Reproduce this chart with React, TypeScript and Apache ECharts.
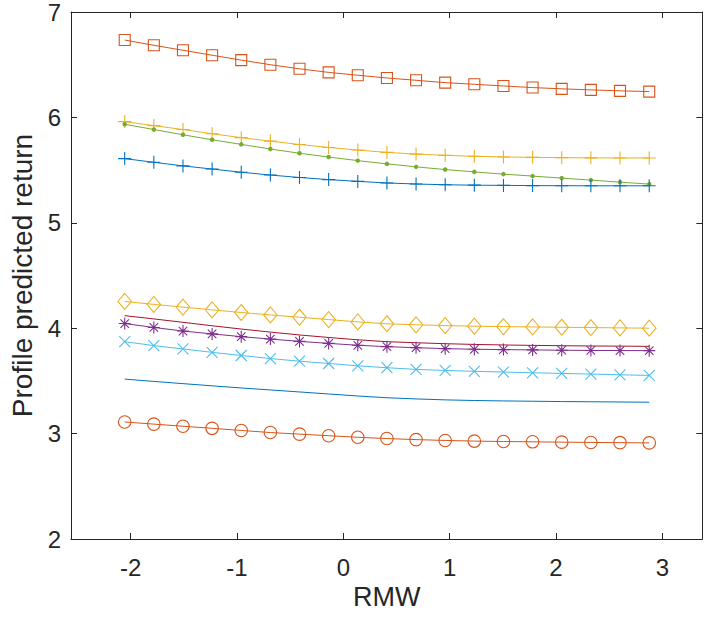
import React, { useEffect, useRef } from "react";
import * as echarts from "echarts";

const xValues = [-2.056, -1.782, -1.508, -1.234, -0.96, -0.686, -0.412, -0.138, 0.136, 0.41, 0.684, 0.958, 1.232, 1.506, 1.78, 2.054, 2.328, 2.602, 2.877];
const xTicks = [-2, -1, 0, 1, 2, 3];
const yTicks = [2, 3, 4, 5, 6, 7];

const squareVals = [6.734, 6.684, 6.637, 6.59, 6.543, 6.5, 6.461, 6.427, 6.4, 6.374, 6.352, 6.33, 6.314, 6.298, 6.283, 6.271, 6.261, 6.252, 6.245];
const yellowPlusVals = [5.96, 5.922, 5.885, 5.845, 5.808, 5.775, 5.743, 5.715, 5.69, 5.668, 5.652, 5.64, 5.631, 5.625, 5.621, 5.618, 5.616, 5.615, 5.615];
const greenDotVals = [5.935, 5.885, 5.835, 5.788, 5.744, 5.7, 5.66, 5.624, 5.59, 5.559, 5.531, 5.505, 5.483, 5.462, 5.443, 5.424, 5.405, 5.386, 5.367];
const bluePlusVals = [5.609, 5.574, 5.54, 5.51, 5.48, 5.453, 5.43, 5.41, 5.393, 5.378, 5.368, 5.361, 5.357, 5.355, 5.353, 5.352, 5.351, 5.351, 5.351];
const diamondVals = [4.254, 4.226, 4.2, 4.174, 4.149, 4.126, 4.104, 4.082, 4.06, 4.042, 4.032, 4.025, 4.019, 4.015, 4.012, 4.009, 4.006, 4.003, 4.0];
const darkRedVals = [4.119, 4.088, 4.056, 4.023, 3.992, 3.963, 3.936, 3.912, 3.89, 3.872, 3.862, 3.853, 3.846, 3.841, 3.837, 3.834, 3.831, 3.83, 3.828];
const asteriskVals = [4.044, 4.007, 3.973, 3.946, 3.92, 3.897, 3.875, 3.856, 3.838, 3.825, 3.815, 3.806, 3.8, 3.797, 3.794, 3.791, 3.789, 3.788, 3.787];
const crossVals = [3.872, 3.835, 3.803, 3.771, 3.741, 3.712, 3.687, 3.665, 3.643, 3.625, 3.609, 3.599, 3.591, 3.584, 3.577, 3.571, 3.565, 3.558, 3.552];
const blueLineVals = [3.517, 3.495, 3.474, 3.453, 3.433, 3.414, 3.395, 3.376, 3.357, 3.34, 3.329, 3.32, 3.314, 3.31, 3.307, 3.304, 3.302, 3.3, 3.298];
const circleVals = [3.11, 3.09, 3.07, 3.05, 3.03, 3.01, 2.995, 2.98, 2.965, 2.953, 2.943, 2.935, 2.929, 2.925, 2.922, 2.919, 2.916, 2.914, 2.912];

const C_BLUE = "#0072BD";
const C_ORANGE = "#D95319";
const C_YELLOW = "#EDB120";
const C_PURPLE = "#7E2F8E";
const C_GREEN = "#77AC30";
const C_CYAN = "#4DBEEE";
const C_DARKRED = "#A2142F";
const AX = "#262626";
const FONT = "'Liberation Sans', Arial, Helvetica, sans-serif";

const SYM_SQUARE = "path://M0,0L10,0L10,10L0,10Z";
const SYM_PLUS = "path://M5,0L5,10M0,5L10,5";
const SYM_CROSS = "path://M0,0L10,10M10,0L0,10";
const SYM_ASTER = "path://M5,0L5,10M0,5L10,5M1.46,1.46L8.54,8.54M8.54,1.46L1.46,8.54";
const SYM_DIAMOND = "path://M5,0L10,5L5,10L0,5Z";
const SYM_CIRCLE = "path://M10,5A5,5,0,1,1,0,5A5,5,0,1,1,10,5Z";

function pair(vals: number[]) {
  return xValues.map((x, i) => [x, vals[i]]);
}

function lineSeries(name: string, vals: number[], color: string, symbol: string | null, size: number | number[], filled = false) {
  return {
    name,
    type: "line",
    data: pair(vals),
    xAxisIndex: 0,
    yAxisIndex: 0,
    showSymbol: symbol !== null,
    symbol: symbol || "none",
    symbolSize: size,
    lineStyle: { color, width: 1 },
    itemStyle: filled
      ? { color, borderColor: color, borderWidth: 0 }
      : { color: "none", borderColor: color, borderWidth: 1.1 },
    emphasis: { disabled: true },
    z: 3,
  };
}

export default function App() {
  const ref = useRef<HTMLDivElement>(null);
  useEffect(() => {
    if (!ref.current) return;
    const chart = echarts.init(ref.current, null, { renderer: "svg" });
    const axisLine = { show: true, onZero: false, lineStyle: { color: AX, width: 1 } };
    const tick = { show: true, inside: true, length: 6, lineStyle: { color: AX, width: 1 } };
    chart.setOption({
      animation: false,
      backgroundColor: "#ffffff",
      grid: { left: 59.3, right: 3.7, top: 7.4, bottom: 78, containLabel: false },
      xAxis: [
        {
          type: "value",
          position: "bottom",
          min: -2.561,
          max: 3.376,
          axisLine,
          axisTick: { ...tick, customValues: xTicks },
          axisLabel: { customValues: xTicks, fontSize: 24, color: AX, fontFamily: FONT, margin: 16 },
          splitLine: { show: false },
          name: "RMW",
          nameLocation: "middle",
          nameGap: 37,
          nameTextStyle: { fontSize: 27, color: AX, fontFamily: FONT },
        },
        {
          type: "value",
          position: "top",
          min: -2.561,
          max: 3.376,
          axisLine,
          axisTick: { ...tick, customValues: xTicks },
          axisLabel: { show: false },
          splitLine: { show: false },
        },
      ],
      yAxis: [
        {
          type: "value",
          position: "left",
          min: 2,
          max: 7,
          interval: 1,
          axisLine,
          axisTick: { ...tick, customValues: yTicks },
          axisLabel: { customValues: yTicks, fontSize: 24, color: AX, fontFamily: FONT, margin: 10 },
          splitLine: { show: false },
          name: "Profile predicted return",
          nameLocation: "middle",
          nameGap: 35,
          nameTextStyle: { fontSize: 28, color: AX, fontFamily: FONT },
        },
        {
          type: "value",
          position: "right",
          min: 2,
          max: 7,
          interval: 1,
          axisLine,
          axisTick: { ...tick, customValues: yTicks },
          axisLabel: { show: false },
          splitLine: { show: false },
        },
      ],
      series: [
        lineSeries("square", squareVals, C_ORANGE, SYM_SQUARE, 11),
        lineSeries("yellowPlus", yellowPlusVals, C_YELLOW, SYM_PLUS, 13),
        lineSeries("greenDot", greenDotVals, C_GREEN, "circle", 4.5, true),
        lineSeries("bluePlus", bluePlusVals, C_BLUE, SYM_PLUS, 13),
        lineSeries("diamond", diamondVals, C_YELLOW, SYM_DIAMOND, [13.5, 16]),
        lineSeries("darkRed", darkRedVals, C_DARKRED, null, 0),
        lineSeries("asterisk", asteriskVals, C_PURPLE, SYM_ASTER, 12),
        lineSeries("cross", crossVals, C_CYAN, SYM_CROSS, 11),
        lineSeries("blueLine", blueLineVals, C_BLUE, null, 0),
        lineSeries("circle", circleVals, C_ORANGE, SYM_CIRCLE, 12.5),
      ],
    });
    return () => chart.dispose();
  }, []);
  return (
    <div
      ref={ref}
      style={{ position: "fixed", left: 0, top: 0, width: 706, height: 617, background: "#fff" }}
    />
  );
}
